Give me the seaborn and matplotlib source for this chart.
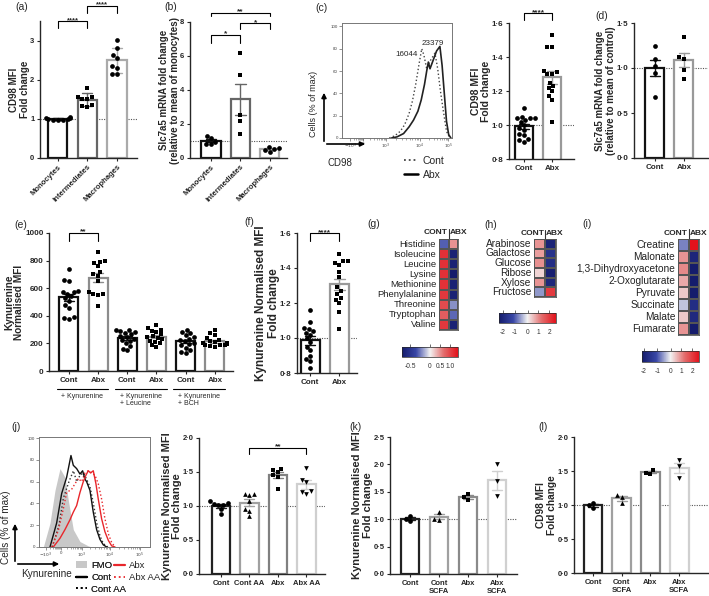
import numpy as np
import pandas as pd
import matplotlib
matplotlib.use("Agg")
import matplotlib.pyplot as plt
import matplotlib.transforms as mtransforms
import seaborn as sns
from matplotlib.colors import LinearSegmentedColormap, TwoSlopeNorm
from matplotlib.lines import Line2D
from matplotlib.patches import Patch, FancyArrowPatch

# ---------------- values ----------------
# (a) CD98 MFI fold change (mean +/- SD)
a_groups = ["Monocytes", "Intermediates", "Macrophages"]
a_mono = [1.05, 1.03, 1.02, 1.0, 0.99, 0.98, 0.97, 0.96]
a_inter = [1.8, 1.57, 1.55, 1.52, 1.5, 1.35, 1.32, 1.3]
a_macro = [3.02, 2.82, 2.62, 2.55, 2.35, 2.3, 2.15, 2.15]

# (b) Slc7a5 mRNA fold change
b_mono = [1.28, 1.15, 0.95, 0.85, 0.8]
b_inter = [6.2, 4.9, 2.55, 2.2, 1.4]
b_macro = [0.65, 0.58, 0.52, 0.46, 0.34]

# (c) CD98 flow histogram (x = position along biexponential axis, % of width)
flow_ticklabels = [r"$-10^3$", "0", r"$10^3$", r"$10^4$", r"$10^5$"]
c_cont_x = [43, 48, 53, 57, 61, 64, 67, 70, 72.5, 74.5, 77, 79.5, 82, 84.5, 87, 89.5, 92, 95, 98]
c_cont_y = [0, 2, 6, 12, 22, 33, 48, 66, 80, 74, 62, 68, 72, 76, 62, 42, 25, 6, 0]
c_abx_x = [45, 50, 56, 61, 65, 69, 72, 75, 77, 78.5, 80, 83, 86, 89, 91, 93, 95, 97, 99]
c_abx_y = [0, 1, 4, 10, 16, 24, 34, 48, 60, 68, 62, 70, 78, 82, 65, 40, 15, 3, 0]
c_peaks = ["16044", "23379"]

# (c) CD98 MFI fold change, Cont vs Abx
c_cont = [1.1, 1.05, 1.04, 1.04, 1.04, 1.03, 1.02, 1.0, 0.98, 0.97, 0.95, 0.94, 0.92, 0.91, 0.9]
c_abx = [1.53, 1.46, 1.46, 1.32, 1.31, 1.3, 1.3, 1.25, 1.23, 1.22, 1.2, 1.17, 1.15, 1.02]

# (d) Slc7a5 mRNA, Cont vs Abx
d_cont = [1.25, 1.1, 1.02, 0.95, 0.68]
d_abx = [1.34, 1.12, 1.1, 0.98, 0.88]

# (e) Kynurenine normalised MFI
e_groups = ["Cont K", "Abx K", "Cont KL", "Abx KL", "Cont KB", "Abx KB"]
e_ticklabels = ["Cont", "Abx", "Cont", "Abx", "Cont", "Abx"]
e_group_labels = ["+ Kynurenine", "+ Kynurenine\n+ Leucine", "+ Kynurenine\n+ BCH"]
e_cont_k = [740, 660, 650, 580, 575, 570, 560, 540, 530, 510, 480, 460, 390, 385, 380]
e_abx_k = [860, 800, 790, 780, 760, 720, 700, 690, 650, 570, 560, 560, 550, 470]
e_cont_kl = [300, 295, 290, 285, 275, 265, 255, 245, 235, 225, 215, 200, 180, 160, 150]
e_abx_kl = [330, 310, 300, 290, 280, 265, 255, 245, 240, 230, 220, 210, 200, 185, 175]
e_cont_kb = [300, 285, 275, 260, 245, 235, 225, 215, 205, 195, 185, 170, 150, 140, 130]
e_abx_kb = [295, 275, 260, 240, 225, 215, 210, 205, 200, 195, 190, 185, 185, 180, 175]

# (f) Kynurenine normalised MFI fold change
f_cont = [1.16, 1.09, 1.06, 1.05, 1.04, 1.03, 1.02, 1.0, 0.98, 0.95, 0.93, 0.9, 0.88, 0.87, 0.83]
f_abx = [1.48, 1.44, 1.44, 1.43, 1.42, 1.38, 1.35, 1.29, 1.27, 1.25, 1.23, 1.22, 1.2, 1.15, 1.05]

# (g) (h) (i) metabolite heatmaps
g_labels = ["Histidine", "Isoleucine", "Leucine", "Lysine", "Methionine",
            "Phenylalanine", "Threonine", "Tryptophan", "Valine"]
g_cont = [-0.3, 1.15, 1.15, 1.15, 1.15, 1.1, 0.95, 0.8, 1.1]
g_abx = [0.5, -0.65, -0.65, -0.7, -0.65, -0.65, -0.2, -0.28, -0.65]
g_ticks = [-0.5, 0, 0.5, 1.0]
g_ticklabels = ["-0.5", "0", "0.5", "1.0"]

h_labels = ["Arabinose", "Galactose", "Glucose", "Ribose", "Xylose", "Fructose"]
h_cont = [0.9, 0.8, 0.95, 0.3, 0.9, -0.6]
h_abx = [-2.1, -1.7, -1.8, -2.2, -2.0, 2.0]

i_labels = ["Creatine", "Malonate", "1,3-Dihydroxyacetone", "2-Oxoglutarate",
            "Pyruvate", "Succinate", "Malate", "Fumarate"]
i_cont = [-0.7, 0.9, 1.0, 0.7, 0.4, -0.3, 0.4, 0.9]
i_abx = [2.6, -1.9, -2.2, -2.3, -2.3, -1.7, -1.8, -2.2]
hi_ticks = [-2, -1, 0, 1, 2]
hi_ticklabels = ["-2", "-1", "0", "1", "2"]

# (j) Kynurenine flow histogram
j_fmo_x = [3.9, 9.9, 14.4, 18.9, 23.4, 26.4, 30.9, 36.9, 44.4, 47.4]
j_fmo_y = [0, 22, 52, 72, 64, 43, 16, 5, 1, 0]
j_cont_x = [9.9, 15.9, 20.4, 24.9, 28.8, 30.9, 33.9, 36.9, 39.3, 41.5, 42.9, 45.9, 48.9, 51.9, 54.9, 57.9, 61]
j_cont_y = [0, 22, 49, 64, 84, 75, 72, 67, 70, 62, 60, 52, 32, 16, 7, 2, 0]
j_contaa_x = [12, 18, 22, 27, 31, 34, 37, 40, 43, 46, 49, 52, 55, 58, 62]
j_contaa_y = [0, 20, 45, 60, 70, 60, 66, 68, 62, 55, 40, 22, 10, 3, 0]
j_abx_x = [12.9, 18.9, 23.4, 27.9, 30.9, 33.9, 36.9, 39.9, 42.3, 44.4, 46.5, 48.9, 51.3, 53.4, 56.4, 59.4, 62.5, 65.5, 68.5]
j_abx_y = [0, 8, 16, 25, 32, 38, 50, 60, 66, 70, 68, 70, 58, 44, 26, 14, 6, 1, 0]
j_abxaa_x = [11.4, 17.4, 21.9, 24.9, 29.4, 32.4, 35.4, 38.4, 41.4, 44.4, 47.4, 50.4, 53.4, 56.4, 59.4, 62.5, 65.5, 68.5]
j_abxaa_y = [0, 15, 35, 50, 53, 58, 63, 60, 68, 70, 68, 66, 58, 44, 26, 12, 4, 0]

# (j) Kynurenine fold change with amino acids
j_groups = ["Cont", "Cont AA", "Abx", "Abx AA"]
j_cont = [1.07, 1.05, 1.03, 1.02, 1.01, 0.95, 0.88]
j_contaa = [1.18, 1.17, 1.16, 1.08, 0.95, 0.93, 0.86]
j_abx = [1.55, 1.53, 1.5, 1.45, 1.42, 1.25]
j_abxaa = [1.56, 1.38, 1.36, 1.22, 1.2, 1.18]

# (k) (l) SCFA
kl_groups = ["Cont", "Cont SCFA", "Abx", "Abx SCFA"]
kl_ticklabels = ["Cont", "Cont\nSCFA", "Abx", "Abx\nSCFA"]
k_cont = [1.06, 1.0, 0.96]
k_contscfa = [1.13, 1.01, 0.99]
k_abx = [1.46, 1.4, 1.35]
k_abxscfa = [2.0, 1.7, 1.42]
l_cont = [1.03, 1.0, 0.96]
l_contscfa = [1.14, 1.12, 1.03]
l_abx = [1.52, 1.47, 1.46]
l_abxscfa = [1.66, 1.58, 1.4]

# ---------------- figure ----------------
sns.set_style("ticks")
plt.rcParams["font.family"] = ["Liberation Sans", "DejaVu Sans"]
plt.rcParams["axes.linewidth"] = 1.0

W, H = 709, 596
fig = plt.figure(figsize=(W / 100, H / 100), dpi=100)


def add_ax(l, t, r, b):
    return fig.add_axes([l / W, 1 - b / H, (r - l) / W, (b - t) / H])


def fxy(x, y):
    return x / W, 1 - y / H


def fmt(v, dec):
    return f"{v:.{dec}f}".replace(".", "·") if dec else f"{v:.0f}"


def bar_panel(box, groups, series, markers, colors, ylim, yticks, xlim, ylabel,
              dec=1, err="se", ref=1.0, xlabels=None, rot=0, fs=5.5, yfs=7, lpad=0.5):
    ax = add_ax(*box)
    df = pd.DataFrame({"group": np.repeat(groups, [len(s) for s in series]),
                       "value": np.concatenate(series)})
    sns.barplot(data=df, x="group", y="value", order=groups, errorbar=err,
                capsize=0.35, color="white", edgecolor="k", width=0.65,
                linewidth=1.6, err_kws={"linewidth": 1.0}, ax=ax)
    for patch, c in zip(ax.patches, colors):
        patch.set_edgecolor(c)
    for line, c in zip(ax.lines, colors):
        line.set_color(c)
    for g, m in zip(groups, markers):
        sns.swarmplot(data=df[df["group"] == g], x="group", y="value", order=groups,
                      marker=m, color="black", size=3.4, zorder=3, ax=ax)
    if ref is not None:
        ax.axhline(ref, color="#555555", lw=0.8, ls=(0, (1, 1.2)), zorder=0.5)
    ax.set_xlim(*xlim)
    ax.set_ylim(*ylim)
    ax.set_yticks(yticks)
    ax.set_yticklabels([fmt(v, dec) for v in yticks], fontsize=fs, fontweight="bold")
    ax.set_xticks(range(len(groups)))
    labels = xlabels if xlabels is not None else groups
    if rot:
        ax.set_xticklabels(labels, fontsize=fs, fontweight="bold", rotation=rot,
                           ha="right", rotation_mode="anchor")
    else:
        ax.set_xticklabels(labels, fontsize=fs, fontweight="bold")
    ax.tick_params(length=2.5, width=0.8, pad=1.5)
    ax.set_xlabel("")
    ax.set_ylabel(ylabel, fontsize=yfs, fontweight="bold", labelpad=lpad, linespacing=1.05)
    sns.despine(ax=ax)
    return ax


def bracket(ax, x1, x2, y, drop, text, fs=6):
    ax.plot([x1, x1, x2, x2], [y - drop, y, y, y - drop], color="k", lw=0.8, clip_on=False)
    ax.annotate(text, xy=((x1 + x2) / 2, y), xytext=(0, -1.8), textcoords="offset points",
                ha="center", va="bottom", fontsize=fs, fontweight="bold", annotation_clip=False)


cmap = LinearSegmentedColormap.from_list("metab", ["#151c6c", "#3846a6", "#f2f2f2", "#e36b6b", "#e3121b"])


def heat_panel(box, cbox, labels, cont, abx, norm, cticks, cticklabels, fs, head_y, line_y):
    ax = add_ax(*box)
    cax = add_ax(*cbox)
    df = pd.DataFrame({"CONT": cont, "ABX": abx}, index=labels)
    sns.heatmap(df, ax=ax, cmap=cmap, norm=norm, cbar_ax=cax,
                cbar_kws={"orientation": "horizontal"},
                linewidths=0.3, linecolor="#555555", xticklabels=False, yticklabels=True)
    ax.set_yticklabels(labels, rotation=0, fontsize=fs, color="#222222")
    ax.tick_params(axis="y", length=0, pad=2)
    ax.set_xlabel("")
    ax.set_ylabel("")
    for s in ax.spines.values():
        s.set_visible(True)
        s.set_color("#555555")
        s.set_linewidth(0.6)
    ax.plot([1, 1], [0, line_y], color="#333333", lw=0.8, clip_on=False)
    ax.text(0.93, head_y, "CONT", ha="right", va="center", fontsize=6, fontweight="bold")
    ax.text(1.1, head_y, "ABX", ha="left", va="center", fontsize=6, fontweight="bold")
    cbar = ax.collections[0].colorbar
    cbar.set_ticks(cticks)
    cbar.set_ticklabels(cticklabels)
    cbar.outline.set_linewidth(0.5)
    cax.tick_params(axis="x", labelsize=4.8, length=2, width=0.5, top=True, bottom=False,
                    labeltop=False, labelbottom=True, pad=2, colors="#333333")
    return ax


def flow_axes(box, tick_pos, ytop):
    ax = add_ax(*box)
    ax.set_xlim(0, 100)
    ax.set_ylim(0, ytop)
    ax.set_xticks(tick_pos)
    ax.set_xticklabels(flow_ticklabels, fontsize=3.2, color="#444444")
    ax.set_yticks(range(0, 101, 20))
    ax.set_yticklabels([str(v) for v in range(0, 101, 20)], fontsize=3.2, color="#444444")
    minors = []
    for a, b in zip(tick_pos[:-1], tick_pos[1:]):
        minors += [a + (b - a) * np.log10(k) for k in range(2, 10)]
    ax.set_xticks(minors, minor=True)
    ax.tick_params(which="major", length=2, width=0.5, pad=1, color="#666666")
    ax.tick_params(which="minor", length=1.2, width=0.4, color="#666666")
    for s in ax.spines.values():
        s.set_visible(True)
        s.set_color("#777777")
        s.set_linewidth(0.7)
    return ax


def corner_arrows(x0, y0, xtop, xright):
    for end in [(x0, xtop), (xright, y0)]:
        fig.add_artist(FancyArrowPatch(fxy(x0, y0), fxy(*end), transform=fig.transFigure,
                                       arrowstyle="-|>", mutation_scale=7, lw=1.2, color="k"))


# (a)
ax_a = bar_panel((40, 21, 137, 158), a_groups, [a_mono, a_inter, a_macro], ["o", "s", "o"],
                 ["#111111", "#666666", "#aaaaaa"], (0, 3.5), [0, 1, 2, 3], (-0.6, 2.68),
                 "CD98 MFI\nFold change", dec=0, err="sd", rot=45)
bracket(ax_a, 0, 1, 3.49, 0.17, "****", fs=5.5)
bracket(ax_a, 1, 2, 3.88, 0.17, "****", fs=5.5)

# (b)
ax_b = bar_panel((190, 22, 287, 158), a_groups, [b_mono, b_inter, b_macro], ["o", "s", "o"],
                 ["#111111", "#666666", "#aaaaaa"], (0, 8), [0, 2, 4, 6, 8], (-0.71, 2.58),
                 "Slc7a5 mRNA fold change\n(relative to mean of monocytes)", dec=0, rot=45)
bracket(ax_b, 0, 1, 7.24, 0.48, "*")
bracket(ax_b, 1, 2, 7.92, 0.33, "*")
bracket(ax_b, 0, 2, 8.55, 0.2, "**")

# (c) histogram
ax_ch = flow_axes((342, 23, 452, 138), [7.3, 19.4, 39.7, 70.9, 96.7], 103)
sns.lineplot(x=c_cont_x, y=c_cont_y, ax=ax_ch, color="#444444", lw=1.0, linestyle=":", sort=False)
sns.lineplot(x=c_abx_x, y=c_abx_y, ax=ax_ch, color="#222222", lw=1.2, sort=False)
ax_ch.text(58.6, 74.5, c_peaks[0], ha="center", va="center", fontsize=5.8)
ax_ch.text(82.3, 85, c_peaks[1], ha="center", va="center", fontsize=5.8)
fig.text(*fxy(313, 104), "Cells (% of max)", rotation=90, ha="center", va="center", fontsize=6.5)
fig.text(*fxy(340, 163), "CD98", ha="center", va="center", fontsize=7)
corner_arrows(324, 144, 90, 368)
fig.legend(handles=[Line2D([], [], color="#444444", ls=":", lw=1.3),
                    Line2D([], [], color="k", lw=1.8)],
           labels=["Cont", "Abx"], loc="upper left", bbox_to_anchor=fxy(404, 156),
           frameon=False, fontsize=7.5, handlelength=1.3, handletextpad=0.5,
           labelspacing=0.35, borderaxespad=0, borderpad=0)

# (c) bars
ax_c = bar_panel((509, 23, 574, 159), ["Cont", "Abx"], [c_cont, c_abx], ["o", "s"],
                 ["#111111", "#999999"], (0.8, 1.6), [0.8, 1.0, 1.2, 1.4, 1.6], (-0.54, 1.79),
                 "CD98 MFI\nFold change", fs=5.8, yfs=7.5)
bracket(ax_c, 0, 1, 1.657, 0.04, "****")

# (d)
ax_d = bar_panel((634, 23, 708, 158), ["Cont", "Abx"], [d_cont, d_abx], ["o", "s"],
                 ["#111111", "#999999"], (0, 1.5), [0, 0.5, 1.0, 1.5], (-0.72, 1.83),
                 "Slc7a5 mRNA fold change\n(relative to mean of control)", fs=5.8)

# (e)
ax_e = bar_panel((49, 233, 233, 371), e_groups,
                 [e_cont_k, e_abx_k, e_cont_kl, e_abx_kl, e_cont_kb, e_abx_kb],
                 ["o", "s"] * 3, ["#111111", "#8c8c8c"] * 3, (0, 1000),
                 [0, 200, 400, 600, 800, 1000], (-0.68, 5.62), "Kynurenine\nNormalised MFI",
                 dec=0, ref=None, xlabels=e_ticklabels, fs=5.8, yfs=7.3)
bracket(ax_e, 0, 1, 1000, 60, "**")
trans_e = mtransforms.blended_transform_factory(ax_e.transData, ax_e.transAxes)
for i, lab in enumerate(e_group_labels):
    x1, x2 = 2 * i - 0.42, 2 * i + 1.35
    ax_e.plot([x1, x2], [-0.13, -0.13], color="k", lw=0.8, transform=trans_e, clip_on=False)
    ax_e.text((x1 + x2) / 2, -0.16, lab, ha="center", va="top", multialignment="left",
              fontsize=5, transform=trans_e, linespacing=1.0)

# (f)
ax_f = bar_panel((297, 233, 357, 373), ["Cont", "Abx"], [f_cont, f_abx], ["o", "s"],
                 ["#111111", "#999999"], (0.8, 1.6), [0.8, 1.0, 1.2, 1.4, 1.6], (-0.45, 1.6),
                 "Kynurenine Normalised MFI\nFold change", fs=5.8, yfs=8.5, lpad=0)
bracket(ax_f, 0, 1, 1.598, 0.045, "****")

# (g) (h) (i)
heat_panel((439, 239, 458, 330), (402, 347, 458, 357), g_labels, g_cont, g_abx,
           TwoSlopeNorm(vmin=-0.7, vcenter=0, vmax=1.4), g_ticks, g_ticklabels, 6.8, -0.6, -0.95)
heat_panel((534, 239, 556, 297), (499, 313, 556, 323), h_labels, h_cont, h_abx,
           TwoSlopeNorm(vmin=-2.3, vcenter=0, vmax=2.6), hi_ticks, hi_ticklabels, 7.3, -0.6, -0.95)
heat_panel((678, 239, 699, 335), (642, 351, 699, 362), i_labels, i_cont, i_abx,
           TwoSlopeNorm(vmin=-2.15, vcenter=0, vmax=2.6), hi_ticks, hi_ticklabels, 7.3, -0.5, -0.8)

# (j) histogram
ax_jh = flow_axes((39, 437, 150, 547), [6.0, 19.5, 38.4, 64.0, 91.0], 101)
ax_jh.fill_between(j_fmo_x, j_fmo_y, color="#c8c8c8", lw=0)
sns.lineplot(x=j_contaa_x, y=j_contaa_y, ax=ax_jh, color="#333333", lw=1.0, linestyle=":", sort=False)
sns.lineplot(x=j_abxaa_x, y=j_abxaa_y, ax=ax_jh, color="#e8262b", lw=1.0, linestyle=":", sort=False)
sns.lineplot(x=j_cont_x, y=j_cont_y, ax=ax_jh, color="#111111", lw=1.0, sort=False)
sns.lineplot(x=j_abx_x, y=j_abx_y, ax=ax_jh, color="#e8262b", lw=1.0, sort=False)
fig.text(*fxy(6, 527), "Cells (% of max)", rotation=90, ha="center", va="center", fontsize=7.2)
fig.text(*fxy(47, 574), "Kynurenine", ha="center", va="center", fontsize=7.2)
corner_arrows(15, 564, 521, 62)
leg_common = dict(loc="upper left", frameon=False, fontsize=6.8, handlelength=1.2,
                  handletextpad=0.4, labelspacing=0.3, borderaxespad=0, borderpad=0)
leg1 = fig.legend(handles=[Patch(facecolor="#c8c8c8", edgecolor="none"),
                           Line2D([], [], color="k", lw=1.6),
                           Line2D([], [], color="k", ls=":", lw=1.3)],
                  labels=["FMO", "Cont", "Cont AA"], bbox_to_anchor=fxy(76, 561), **leg_common)
fig.add_artist(leg1)
fig.legend(handles=[Line2D([], [], color="#e8262b", lw=1.6),
                    Line2D([], [], color="#e8262b", ls=":", lw=1.3)],
           labels=["Abx", "Abx AA"], bbox_to_anchor=fxy(114, 561), **leg_common)

# (j) bars
ax_j = bar_panel((199, 438, 325, 574), j_groups, [j_cont, j_contaa, j_abx, j_abxaa],
                 ["o", "^", "s", "v"], ["#222222", "#a0a0a0", "#808080", "#cfcfcf"],
                 (0, 2.0), [0, 0.5, 1.0, 1.5, 2.0], (-0.77, 3.65),
                 "Kynurenine Normalised MFI\nFold change", fs=5.5, yfs=8, lpad=0)
bracket(ax_j, 1, 3, 1.857, 0.09, "**")

# (k)
bar_panel((390, 437, 517, 574), kl_groups, [k_cont, k_contscfa, k_abx, k_abxscfa],
          ["o", "^", "s", "v"], ["#222222", "#a0a0a0", "#8a8a8a", "#d0d0d0"],
          (0, 2.5), [0, 0.5, 1.0, 1.5, 2.0, 2.5], (-0.69, 3.69),
          "Kynurenine Normalised MFI\nFold change", xlabels=kl_ticklabels, fs=5.5, yfs=8)

# (l)
bar_panel((574, 437, 708, 573), kl_groups, [l_cont, l_contscfa, l_abx, l_abxscfa],
          ["o", "^", "s", "v"], ["#222222", "#a0a0a0", "#8a8a8a", "#d0d0d0"],
          (0, 2.0), [0, 0.5, 1.0, 1.5, 2.0], (-0.66, 4.0),
          "CD98 MFI\nFold change", xlabels=kl_ticklabels, fs=5.5, yfs=7.3)

# panel letters
for lab, x, y in [("(a)", 22, 7), ("(b)", 171, 7), ("(c)", 321, 8), ("(d)", 602, 16),
                  ("(e)", 21, 225), ("(f)", 249, 222), ("(g)", 374, 224), ("(h)", 491, 225),
                  ("(i)", 587, 224), ("(j)", 16, 427), ("(k)", 356, 427), ("(l)", 543, 427)]:
    fig.text(*fxy(x, y), lab, ha="center", va="center", fontsize=7.5)

fig.savefig("out.png", dpi=100)
